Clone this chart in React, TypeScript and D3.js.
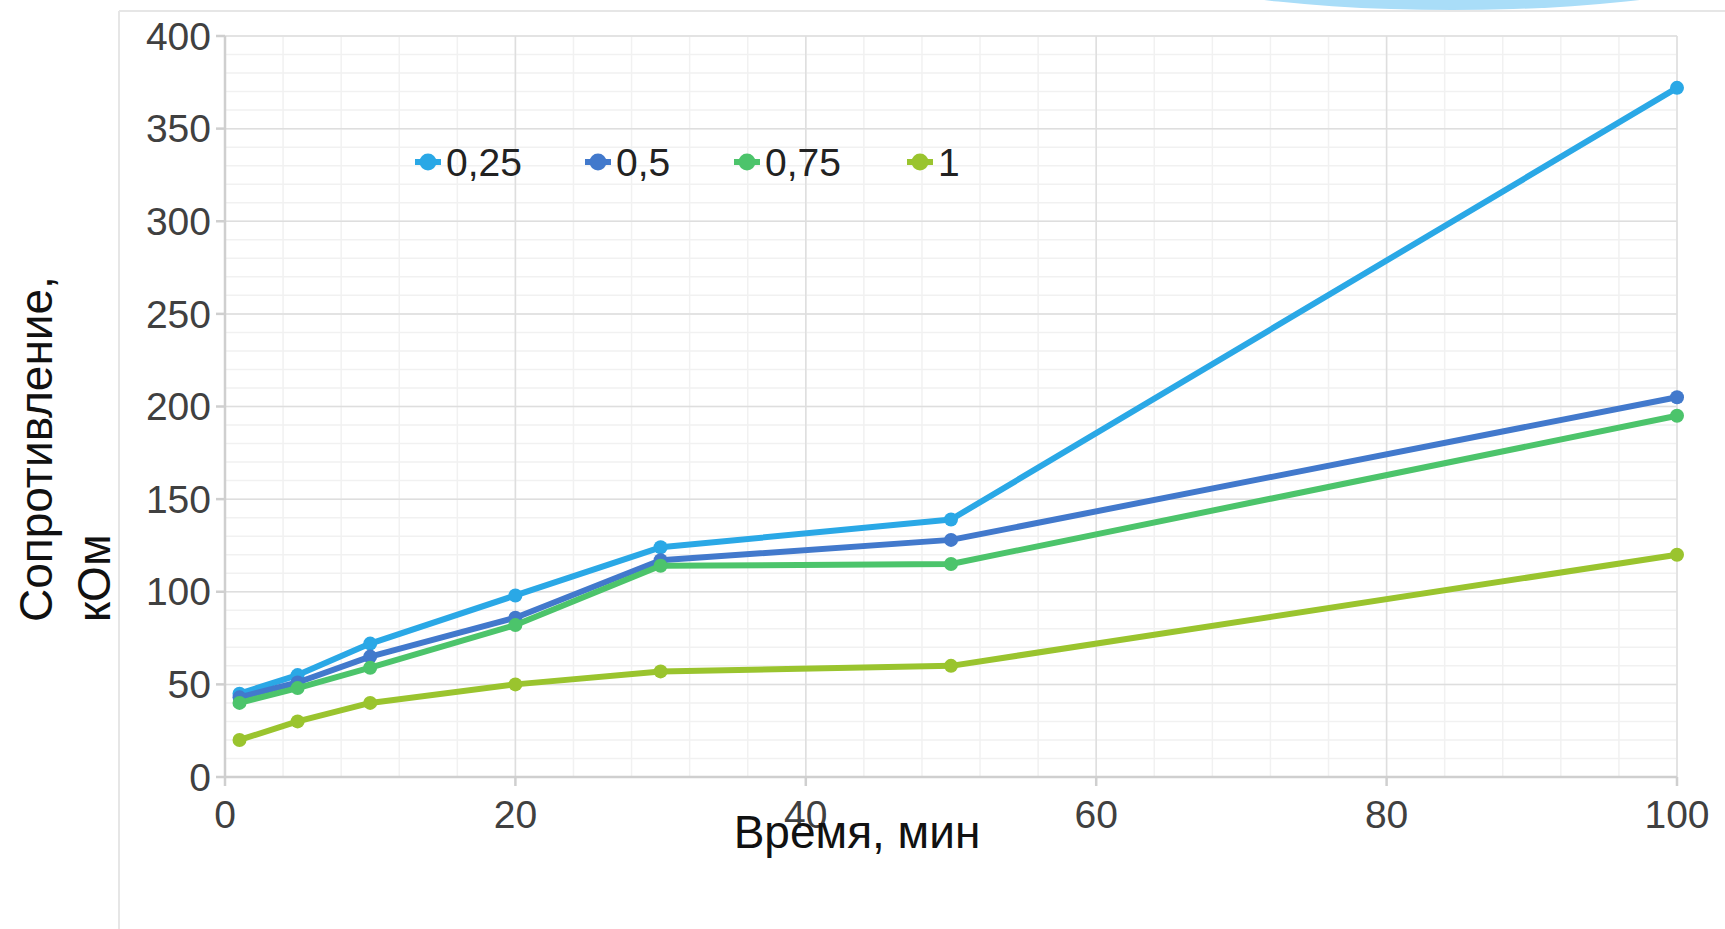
import React from "react";
import * as d3 from "d3";

// Time points, minutes
const times = [1, 5, 10, 20, 30, 50, 100];

// Resistance, kOhm, per concentration
const series025 = [45, 55, 72, 98, 124, 139, 372];
const series05 = [43, 51, 65, 86, 117, 128, 205];
const series075 = [40, 48, 59, 82, 114, 115, 195];
const series1 = [20, 30, 40, 50, 57, 60, 120];

const seriesNames = ["0,25", "0,5", "0,75", "1"];
const seriesValues = [series025, series05, series075, series1];
const seriesColors = ["#2aa8e6", "#4279cc", "#4cc46b", "#9ac42e"];

const xTicks = [0, 20, 40, 60, 80, 100];
const yTicks = [0, 50, 100, 150, 200, 250, 300, 350, 400];

const W = 1725;
const H = 929;
const FONT = "'Liberation Sans', Arial, sans-serif";

export default function App() {
  const x = d3.scaleLinear().domain([0, 100]).range([225, 1677]);
  const y = d3.scaleLinear().domain([0, 400]).range([777, 36]);

  const line = d3
    .line<[number, number]>()
    .x((d) => x(d[0]))
    .y((d) => y(d[1]));

  const minorX = d3.range(0, 101, 4);
  const minorY = d3.range(0, 401, 10);

  const legendX = [428, 598, 747, 920];
  const legendY = 162;

  return (
    <svg
      width={W}
      height={H}
      style={{ position: "fixed", top: 0, left: 0, display: "block", background: "#fff" }}
      fontFamily={FONT}
    >
      {/* decorative shape at the top edge */}
      <ellipse cx={1452} cy={-40} rx={313} ry={50} fill="#a9ddf8" />

      {/* chart frame */}
      <line x1={119} y1={11} x2={W} y2={11} stroke="#e6e6e6" strokeWidth={2} />
      <line x1={119} y1={11} x2={119} y2={H} stroke="#e6e6e6" strokeWidth={2} />

      {/* minor grid */}
      <g stroke="#f1f1f1" strokeWidth={1.5}>
        {minorX.map((v) => (
          <line key={"mx" + v} x1={x(v)} x2={x(v)} y1={y(400)} y2={y(0)} />
        ))}
        {minorY.map((v) => (
          <line key={"my" + v} x1={x(0)} x2={x(100)} y1={y(v)} y2={y(v)} />
        ))}
      </g>

      {/* major grid */}
      <g stroke="#dedede" strokeWidth={1.5}>
        {xTicks.map((v) => (
          <line key={"gx" + v} x1={x(v)} x2={x(v)} y1={y(400)} y2={y(0)} />
        ))}
        {yTicks.map((v) => (
          <line key={"gy" + v} x1={x(0)} x2={x(100)} y1={y(v)} y2={y(v)} />
        ))}
      </g>

      {/* axes and ticks */}
      <g stroke="#cfcfcf" strokeWidth={2.5}>
        <line x1={x(0)} x2={x(0)} y1={y(400)} y2={y(0)} />
        <line x1={x(0)} x2={x(100)} y1={y(0)} y2={y(0)} />
        {yTicks.map((v) => (
          <line key={"ty" + v} x1={x(0) - 9} x2={x(0)} y1={y(v)} y2={y(v)} />
        ))}
        {xTicks.map((v) => (
          <line key={"tx" + v} x1={x(v)} x2={x(v)} y1={y(0)} y2={y(0) + 9} />
        ))}
      </g>

      {/* tick labels */}
      <g fontSize={39} fill="#404040">
        {yTicks.map((v) => (
          <text key={"ly" + v} x={211} y={y(v)} dy="0.35em" textAnchor="end">
            {v}
          </text>
        ))}
        {xTicks.map((v) => (
          <text key={"lx" + v} x={x(v)} y={828} textAnchor="middle">
            {v}
          </text>
        ))}
      </g>

      {/* series */}
      {seriesValues.map((vals, i) => {
        const pts = times.map((t, k) => [t, vals[k]] as [number, number]);
        return (
          <g key={"s" + i}>
            <path
              d={line(pts) || ""}
              fill="none"
              stroke={seriesColors[i]}
              strokeWidth={6}
              strokeLinejoin="round"
            />
            {pts.map((p, k) => (
              <circle key={k} cx={x(p[0])} cy={y(p[1])} r={7} fill={seriesColors[i]} />
            ))}
          </g>
        );
      })}

      {/* legend */}
      {seriesNames.map((name, i) => (
        <g key={"lg" + i}>
          <line
            x1={legendX[i] - 13}
            x2={legendX[i] + 13}
            y1={legendY}
            y2={legendY}
            stroke={seriesColors[i]}
            strokeWidth={6}
          />
          <circle cx={legendX[i]} cy={legendY} r={8.5} fill={seriesColors[i]} />
          <text x={legendX[i] + 18} y={legendY} dy="0.36em" fontSize={39} fill="#222">
            {name}
          </text>
        </g>
      ))}

      {/* axis titles */}
      <text x={857} y={848} textAnchor="middle" fontSize={46} fill="#111">
        Время, мин
      </text>
      <g transform="translate(0,622) rotate(-90)" fontSize={46} fill="#111">
        <text x={0} y={52}>Сопротивление,</text>
        <text x={0} y={110}>кОм</text>
      </g>
    </svg>
  );
}
